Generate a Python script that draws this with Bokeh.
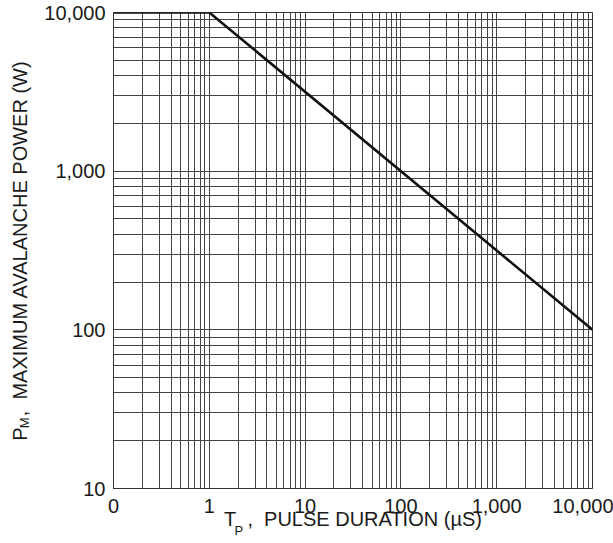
import math
from bokeh.plotting import figure
from bokeh.models import Range1d, FixedTicker, LogAxis
from bokeh.embed import file_html
from bokeh.resources import INLINE

NB = "\u00a0"   # non-breaking space (not collapsed in SVG text)

# ---- data ----
x_ticks = [0.1, 1, 10, 100, 1000, 10000]
x_tick_labels = ["0", "1", "10", "100", "1,000", "10,000"]
y_ticks = [10, 100, 1000, 10000]
y_tick_labels = ["10", "100", "1,000", "10,000"]
pulse_us = [0.1, 1, 10000]
power_w = [10000, 10000, 100]

x_title = ("T", "P", "," + NB * 2 + "PULSE DURATION (\u00b5S)")   # main, subscript, rest
y_title = ("P", "M", "," + NB * 2 + "MAXIMUM AVALANCHE POWER (W)")

# ---- style / geometry ----
FONT = "Liberation Sans"
TXT = "#1a1a1a"
GRID = "#444444"
W, H = 613, 543
L, R, T, B = 113, 21, 12, 55          # frame borders (px)
MAIN_PX, SUB_PX = 20, 13

# Arial/Liberation Sans advance widths (1/1000 em)
ADV = {"T": 611, "P": 667, "M": 833, " ": 278, NB: 278, ",": 278, "U": 722,
       "L": 556, "S": 667, "E": 667, "D": 722, "R": 722, "A": 667, "I": 278,
       "O": 778, "N": 722, "(": 333, ")": 333, "\u00b5": 576, "X": 667,
       "V": 667, "C": 722, "H": 722, "W": 944}

def width(s, px):
    return sum(ADV.get(c, 600) for c in s) * px / 1000.0

def title_parts(parts, gap):
    main, sub, rest = parts
    full = main + gap + rest
    return full, width(full, MAIN_PX), width(main, MAIN_PX), width(gap, MAIN_PX)

p = figure(width=W, height=H, x_axis_type="log", y_axis_type="log",
           x_range=Range1d(0.1, 10000), y_range=Range1d(10, 10000),
           output_backend="svg", toolbar_location=None,
           min_border_left=L, min_border_right=R,
           min_border_top=T, min_border_bottom=B)
p.background_fill_color = "white"
p.border_fill_color = "white"
p.outline_line_color = "#333333"
p.outline_line_width = 1

fw, fh = W - L - R, H - T - B

# grid at every 1..9 x 10^n
def log_grid(lo, hi):
    out = []
    e = int(round(math.log10(lo)))
    while 10 ** e <= hi:
        for k in range(1, 10):
            v = k * 10 ** e
            if lo <= v <= hi:
                out.append(v)
        e += 1
    return out

p.xgrid.ticker = FixedTicker(ticks=log_grid(0.1, 10000))
p.ygrid.ticker = FixedTicker(ticks=log_grid(10, 10000))
for g in (p.xgrid, p.ygrid):
    g.grid_line_color = GRID
    g.grid_line_width = 1
    g.grid_line_alpha = 1.0

def style_axis(ax):
    ax.major_tick_out = 0
    ax.major_tick_in = 0
    ax.minor_tick_out = 0
    ax.minor_tick_in = 0
    ax.axis_line_color = "#333333"
    ax.major_label_text_font = FONT
    ax.major_label_text_color = TXT
    ax.axis_label_text_font = FONT
    ax.axis_label_text_color = TXT
    ax.axis_label_text_font_style = "normal"
    ax.axis_label_text_font_size = f"{MAIN_PX}px"

# ---- x axis: tick labels + main title
xfull, xw, xmain, xgap = title_parts(x_title, NB * 2)
ax = p.xaxis[0]
style_axis(ax)
ax.ticker = FixedTicker(ticks=x_ticks)
ax.major_label_overrides = {t: l for t, l in zip(x_ticks, x_tick_labels)}
ax.major_label_standoff = 10
ax.major_label_text_font_size = f"{MAIN_PX}px"
ax.axis_label = xfull
ax.axis_label_standoff = -8

# subscript of the x title, on a second (bare) axis
px_sub = L + fw / 2 - xw / 2 + xmain + width(x_title[1], SUB_PX) / 2 - 1.0
x_sub = round(10 ** (-1 + 5 * (px_sub - L) / fw), 4)
ax2 = LogAxis(ticker=FixedTicker(ticks=[x_sub]), major_label_overrides={x_sub: x_title[1]})
style_axis(ax2)
ax2.axis_line_color = None
ax2.major_label_text_font_size = f"{SUB_PX}px"
ax2.major_label_standoff = -10
p.add_layout(ax2, "below")

# ---- y axis: tick labels + main title
yfull, yw, ymain, ygap = title_parts(y_title, NB * 2)
ay = p.yaxis[0]
style_axis(ay)
ay.ticker = FixedTicker(ticks=y_ticks)
ay.major_label_overrides = {t: l for t, l in zip(y_ticks, y_tick_labels)}
ay.major_label_standoff = 8
ay.major_label_text_font_size = f"{MAIN_PX}px"
ay.axis_label = yfull
ay.axis_label_standoff = 10

py_sub = T + fh / 2 + yw / 2 - ymain - width(y_title[1], SUB_PX) / 2 - 0.5   # screen y from top
y_sub = round(10 ** (1 + 3 * (T + fh - py_sub) / fh), 3)
ay2 = LogAxis(ticker=FixedTicker(ticks=[y_sub]), major_label_overrides={y_sub: y_title[1]})
style_axis(ay2)
ay2.axis_line_color = None
ay2.major_label_text_font_size = f"{SUB_PX}px"
ay2.major_label_orientation = "parallel"
ay2.major_label_standoff = -26
p.add_layout(ay2, "left")

# curve
p.line(pulse_us, power_w, line_width=2.6, line_color="#111111")

open("out.html", "w").write(file_html(p, INLINE))
